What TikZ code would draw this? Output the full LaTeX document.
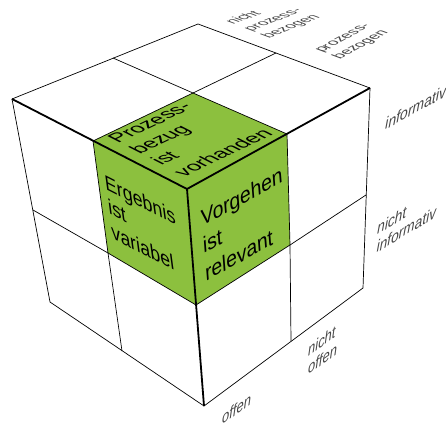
\documentclass[tikz,border=0pt]{standalone}
\usepackage{fontspec}
\setmainfont{Liberation Sans}
\definecolor{cubegreen}{RGB}{140,192,62}
\definecolor{labelgray}{RGB}{70,70,70}
\tikzset{
  thinedge/.style={line width=0.7pt, black},
  thickedge/.style={line width=1.8pt, black},
  facetext/.style={anchor=base west, inner sep=0pt, transform shape, font=\fontsize{19}{22}\selectfont},
  toplabel/.style={anchor=base west, inner sep=0pt, transform shape, font=\fontsize{14.5}{17}\selectfont},
  sidelabel/.style={anchor=base west, inner sep=0pt, transform shape, font=\fontsize{16}{18}\selectfont\itshape}
}
\begin{document}
\begin{tikzpicture}[x=1pt,y=-1pt]
\useasboundingbox (0,0) rectangle (446,427);
% outer vertices
\coordinate (B) at (198,24);
\coordinate (L) at (12,99);
\coordinate (R) at (370,88);
\coordinate (F) at (187,189);
\coordinate (LB) at (50,302);
\coordinate (FB) at (204,406);
\coordinate (RB) at (363,288);
% grid points
\coordinate (LBm) at (113,58);
\coordinate (BRm) at (276,53);
\coordinate (TC) at (193,93);
\coordinate (LFm) at (93,141);
\coordinate (FRm) at (287,134);
\coordinate (LLm) at (33,210);
\coordinate (FFm) at (196,305);
\coordinate (LBBm) at (122,351);
\coordinate (LC) at (108,253);
\coordinate (RRm) at (366,195);
\coordinate (RBm) at (291,341);
\coordinate (RC) at (290,245);
% green cells
\fill[cubegreen] (LFm) -- (TC) -- (FRm) -- (F) -- cycle;
\fill[cubegreen] (LFm) -- (F) -- (FFm) -- (LC) -- cycle;
\fill[cubegreen] (F) -- (FRm) -- (RC) -- (FFm) -- cycle;
% thin edges
\draw[thinedge] (L) -- (B) -- (R);
\draw[thinedge] (L) -- (LB) -- (FB) -- (RB) -- (R);
\draw[thinedge] (LBm) -- (TC) -- (FRm);
\draw[thinedge] (BRm) -- (TC) -- (LFm);
\draw[thinedge] (LLm) -- (LC) -- (FFm);
\draw[thinedge] (LFm) -- (LC) -- (LBBm);
\draw[thinedge] (FFm) -- (RC) -- (RRm);
\draw[thinedge] (FRm) -- (RC) -- (RBm);
% thick front edges
\draw[thickedge, line join=round] (L) -- (F) -- (R);
\draw[thickedge] (F) -- (FB);
% top face text
\begin{scope}[cm={1.00,0.48,-0.94,0.48,(93pt,-141pt)}]
  \node[facetext] (t1) at (10,16) {Prozess-};
  \node[facetext] (t2) at (10,39) {bezug};
  \node[facetext] (t3) at (10,62) {ist};
  \node[facetext] (t4) at (10,86) {vorhanden};
\end{scope}
% left face text
\begin{scope}[cm={0.94,-0.48,-0.15,1.12,(93pt,-141pt)}]
  \node[facetext] (l1) at (7,40) {Ergebnis};
  \node[facetext] (l2) at (7,62) {ist};
  \node[facetext] (l3) at (7,84) {variabel};
\end{scope}
% right face text
\begin{scope}[cm={1.00,0.55,-0.09,1.16,(187pt,-189pt)}]
  \node[facetext] (r1) at (11,38) {Vorgehen};
  \node[facetext] (r2) at (11,61) {ist};
  \node[facetext] (r3) at (11,85) {relevant};
\end{scope}
% top labels
\begin{scope}[color=labelgray, cm={0.93,0.37,-0.94,0.35,(233pt,-25pt)}]
  \node[toplabel] (np1) at (0,0) {nicht};
  \node[toplabel] (np2) at (0,19) {prozess-};
  \node[toplabel] (np3) at (0,38) {bezogen};
\end{scope}
\begin{scope}[color=labelgray, cm={0.875,0.483,-0.937,0.349,(322pt,-53pt)}]
  \node[toplabel] (p1) at (0,0) {prozess-};
  \node[toplabel] (p2) at (0,19) {bezogen};
\end{scope}
% side labels
\begin{scope}[color=labelgray, cm={0.875,0.483,0.035,1,(385pt,-130pt)}]
  \node[sidelabel] (i1) at (0,0) {informativ};
\end{scope}
\begin{scope}[color=labelgray, cm={0.857,0.515,0.035,1,(377pt,-235pt)}]
  \node[sidelabel] (ni1) at (0,0) {nicht};
  \node[sidelabel] (ni2) at (0,18) {informativ};
\end{scope}
\begin{scope}[color=labelgray, cm={0.81,0.585,0.0,1,(308pt,-357pt)}]
  \node[sidelabel] (no1) at (0,0) {nicht};
  \node[sidelabel] (no2) at (0,18) {offen};
\end{scope}
\begin{scope}[color=labelgray, cm={0.81,0.585,0.0,1,(222pt,-425pt)}]
  \node[sidelabel] (o1) at (0,0) {offen};
\end{scope}
\end{tikzpicture}
\end{document}
